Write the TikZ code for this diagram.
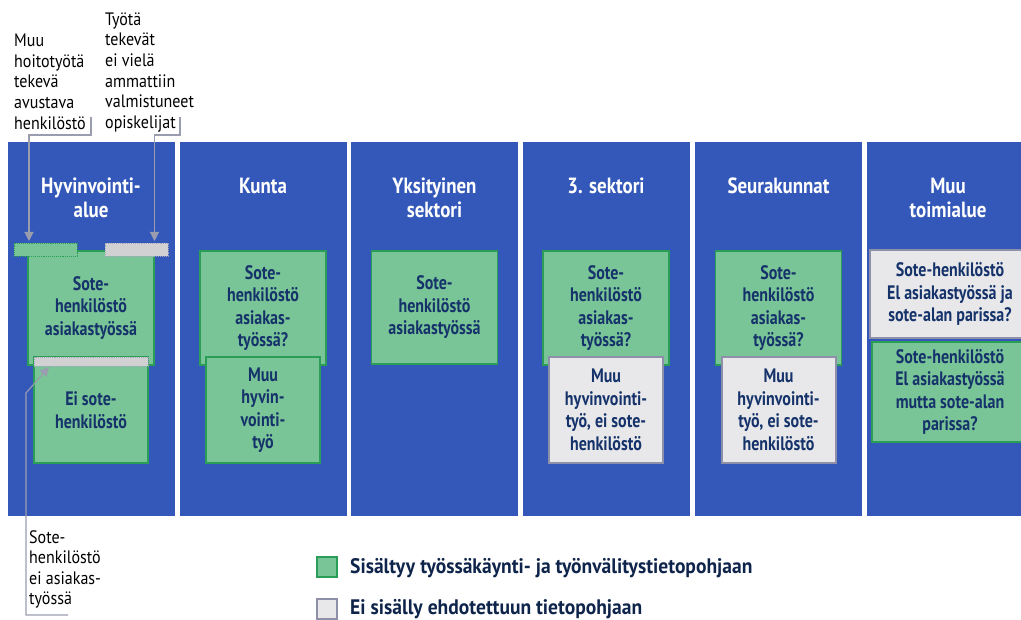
\documentclass[tikz,border=0pt]{standalone}
\usepackage{fontspec}
\setmainfont{PT Sans}[FakeStretch=0.82,BoldFont={PT Sans Bold}]
\newfontfamily\titlefont{PT Sans}[FakeStretch=0.86,BoldFont={PT Sans Bold}]
\newfontfamily\legfont{PT Sans}[FakeStretch=0.93,BoldFont={PT Sans Bold}]
\newfontfamily\notefont{PT Sans}[FakeStretch=0.89]
\usetikzlibrary{arrows.meta}
\definecolor{colblue}{HTML}{3458B9}
\definecolor{sgreen}{HTML}{7AC597}
\definecolor{dgreen}{HTML}{2A9D56}
\definecolor{lgrey}{HTML}{E8E8EA}
\definecolor{bgrey}{HTML}{8D90A8}
\definecolor{navy}{HTML}{15336A}
\definecolor{annot}{HTML}{9A9DAE}
\begin{document}
\begin{tikzpicture}[x=1pt,y=-1pt,
  colrect/.style={fill=colblue,draw=none,minimum width=167pt,minimum height=374pt,inner sep=0pt},
  coltitle/.style={text=white,font=\titlefont\bfseries\fontsize{22}{24}\selectfont,align=center,inner sep=0pt,anchor=north},
  boxtext/.style={text=navy,font=\bfseries\fontsize{19.5}{22.5}\selectfont,align=center,inner sep=0pt},
  gbox/.style={boxtext,fill=sgreen,draw=dgreen,line width=1.6pt},
  ybox/.style={boxtext,fill=lgrey,draw=bgrey,line width=2pt},
  gbar/.style={fill=sgreen,draw=dgreen,densely dotted,line width=0.9pt,inner sep=0pt,minimum width=63pt,minimum height=13pt},
  ybar/.style={fill=lgrey!90!black,draw=bgrey!80!white,densely dotted,line width=0.9pt,inner sep=0pt},
  note/.style={font=\notefont\fontsize{18}{20.6}\selectfont,align=left,inner sep=0pt,anchor=north west,text=black},
  annline/.style={draw=annot,line width=1.1pt},
  annarrow/.style={annline,-{Triangle[width=9pt,length=9pt]}},
  legtext/.style={text=navy!70!black,font=\legfont\bfseries\fontsize{21}{24}\selectfont,inner sep=0pt,anchor=base west},
  legsq/.style={minimum size=20pt,inner sep=0pt,line width=2pt}
]
\useasboundingbox (0,0) rectangle (1021,620);

% columns
\node[colrect] (col1) at (91,329) {};
\node[colrect] (col2) at (263,329) {};
\node[colrect] (col3) at (434.5,329) {};
\node[colrect] (col4) at (606,329) {};
\node[colrect] (col5) at (778.5,329) {};
\node[colrect] (col6) at (950,329) {};

% titles
\node[coltitle] (t1) at (91,178) {Hyvinvointi-\\alue};
\node[coltitle] (t2) at (263,178) {Kunta};
\node[coltitle] (t3) at (434.5,178) {Yksityinen\\sektori};
\node[coltitle] (t4) at (606,178) {3. sektori};
\node[coltitle] (t5) at (778.5,178) {Seurakunnat};
\node[coltitle] (t6) at (948,178) {Muu\\toimialue};

% column 1
\node[gbox,minimum width=126pt,minimum height=114pt] (c1a) at (91,308) {Sote-\\henkilöstö\\asiakastyössä};
\node[gbox,minimum width=114pt,minimum height=106pt] (c1b) at (91,410) {Ei sote-\\henkilöstö};
\node[ybar,minimum width=114pt,minimum height=9pt] (bar3) at (91,361.5) {};
\node[gbar] (bar1) at (45.5,249.5) {};
\node[ybar,minimum width=63pt,minimum height=13pt] (bar2) at (136.5,249.5) {};

% column 2
\node[gbox,minimum width=126pt,minimum height=114pt] (c2a) at (263,308) {Sote-\\henkilöstö\\asiakas-\\työssä?};
\node[gbox,minimum width=114pt,minimum height=106pt] (c2b) at (263,410) {Muu\\hyvin-\\vointi-\\työ};

% column 3
\node[gbox,minimum width=126pt,minimum height=113pt] (c3a) at (434.5,307.5) {Sote-\\henkilöstö\\asiakastyössä};

% column 4
\node[gbox,minimum width=126pt,minimum height=114pt] (c4a) at (606,308) {Sote-\\henkilöstö\\asiakas-\\työssä?};
\node[ybox,minimum width=114pt,minimum height=106pt] (c4b) at (606,410) {Muu\\hyvinvointi-\\työ, ei sote-\\henkilöstö};

% column 5
\node[gbox,minimum width=126pt,minimum height=114pt] (c5a) at (778.5,308) {Sote-\\henkilöstö\\asiakas-\\työssä?};
\node[ybox,minimum width=114pt,minimum height=106pt] (c5b) at (778.5,410) {Muu\\hyvinvointi-\\työ, ei sote-\\henkilöstö};

% column 6
\node[ybox,minimum width=160pt,minimum height=88pt] (c6a) at (950,294) {Sote-henkilöstö\\El asiakastyössä ja\\sote-alan parissa?};
\node[gbox,minimum width=156pt,minimum height=100pt] (c6b) at (950,392) {Sote-henkilöstö\\El asiakastyössä\\mutta sote-alan\\parissa?};

% annotations
\node[note] (n1) at (14,34) {Muu\\hoitotyötä\\tekevä\\avustava\\henkilöstö};
\node[note] (n2) at (105,12.5) {Työtä\\tekevät\\ei vielä\\ammattiin\\valmistuneet\\opiskelijat};
\node[note] (n3) at (29,530) {Sote-\\henkilöstö\\ei asiakas-\\työssä};

\coordinate (k1) at (91,117);
\coordinate (a1) at (29,241);
\coordinate (k2) at (180,117);
\coordinate (a2) at (154.5,241);
\coordinate (k3) at (68,615);
\coordinate (a3) at (49,367);

\draw[annarrow] (k1) -- (91,135) -| (a1);
\draw[annarrow] (k2) -- (180,135) -| (a2);
\draw[annarrow] (k3) -- (26,615) -- (26,393) -- (a3);

% legend
\node[legsq,fill=sgreen,draw=dgreen] (lg1) at (327,566.5) {};
\node[legsq,fill=lgrey,draw=bgrey] (lg2) at (327,608.5) {};
\node[legtext] (l1) at (350,573.5) {Sisältyy työssäkäynti- ja työnvälitystietopohjaan};
\node[legtext] (l2) at (350,614.5) {Ei sisälly ehdotettuun tietopohjaan};
\end{tikzpicture}
\end{document}
